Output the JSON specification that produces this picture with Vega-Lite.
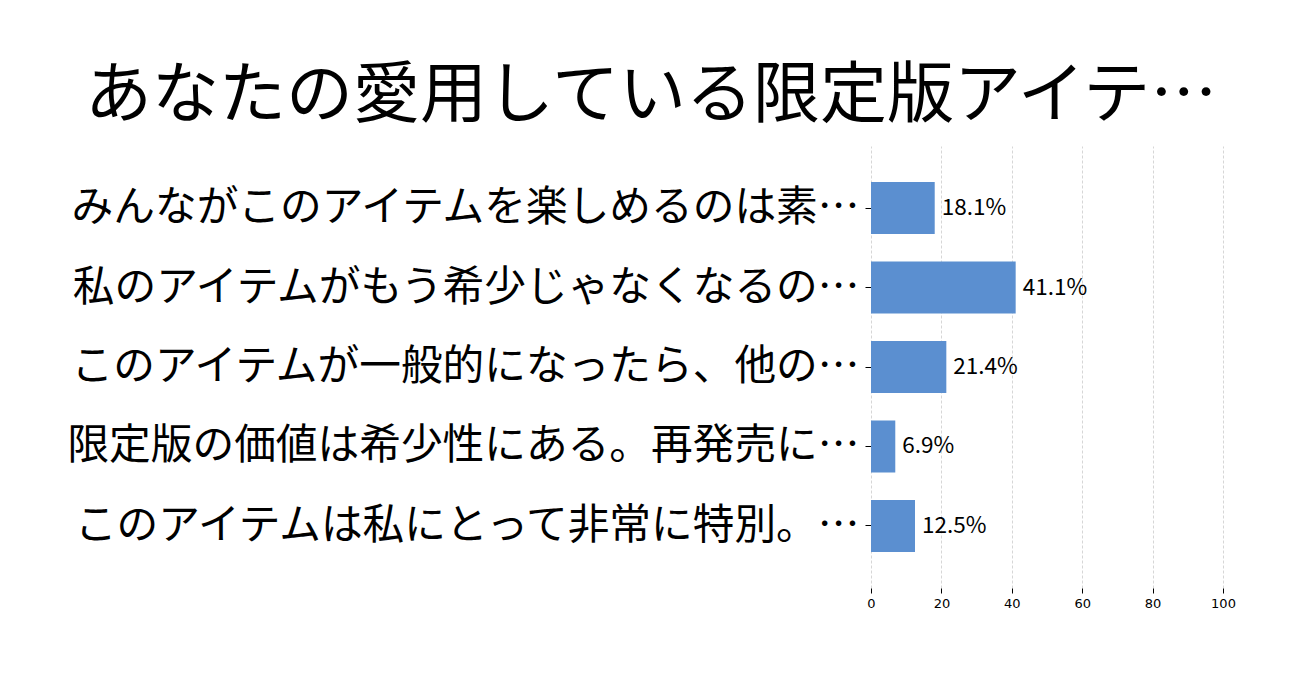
{
  "$schema": "https://vega.github.io/schema/vega-lite/v6.json",
  "autosize": "none",
  "width": 352,
  "height": 442,
  "padding": {"left": 871, "top": 146, "right": 83, "bottom": 95},
  "background": "white",
  "config": {"view": {"stroke": null}},
  "title": {
    "text": "あなたの愛用している限定版アイテ…",
    "font": "Noto Sans CJK JP",
    "fontSize": 67,
    "fontWeight": "normal",
    "color": "black",
    "anchor": "middle",
    "frame": "bounds",
    "baseline": "alphabetic",
    "offset": 23,
    "dy": 61
  },
  "data": {
    "values": [
      {"label": "みんながこのアイテムを楽しめるのは素…", "value": 18.1, "text": "18.1%"},
      {"label": "私のアイテムがもう希少じゃなくなるの…", "value": 41.1, "text": "41.1%"},
      {"label": "このアイテムが一般的になったら、他の…", "value": 21.4, "text": "21.4%"},
      {"label": "限定版の価値は希少性にある。再発売に…", "value": 6.9, "text": "6.9%"},
      {"label": "このアイテムは私にとって非常に特別。…", "value": 12.5, "text": "12.5%"}
    ]
  },
  "encoding": {
    "y": {
      "field": "label",
      "type": "nominal",
      "sort": null,
      "title": null,
      "scale": {"paddingInner": 0.346, "paddingOuter": 0.453},
      "axis": {
        "domain": false,
        "ticks": true,
        "tickColor": "black",
        "tickSize": 6,
        "labelFont": "Noto Sans CJK JP",
        "labelFontSize": 41.7,
        "labelColor": "black",
        "labelLimit": 1000,
        "labelPadding": 6
      }
    },
    "x": {
      "field": "value",
      "type": "quantitative",
      "title": null,
      "scale": {"domain": [0, 100], "nice": false},
      "axis": {
        "values": [0, 20, 40, 60, 80, 100],
        "domain": false,
        "grid": true,
        "gridColor": "#cccccc",
        "gridDash": [3, 2],
        "gridWidth": 0.8,
        "tickColor": "black",
        "tickSize": 5,
        "labelFlush": false,
        "labelFont": "DejaVu Sans",
        "labelFontSize": 13,
        "labelColor": "black",
        "labelPadding": 4
      }
    }
  },
  "layer": [
    {"mark": {"type": "bar", "color": "#5b8fd0"}},
    {
      "mark": {"type": "text", "align": "left", "baseline": "middle", "dx": 7, "font": "Noto Sans CJK JP", "fontSize": 22.5, "color": "black"},
      "encoding": {"text": {"field": "text"}}
    }
  ]
}
